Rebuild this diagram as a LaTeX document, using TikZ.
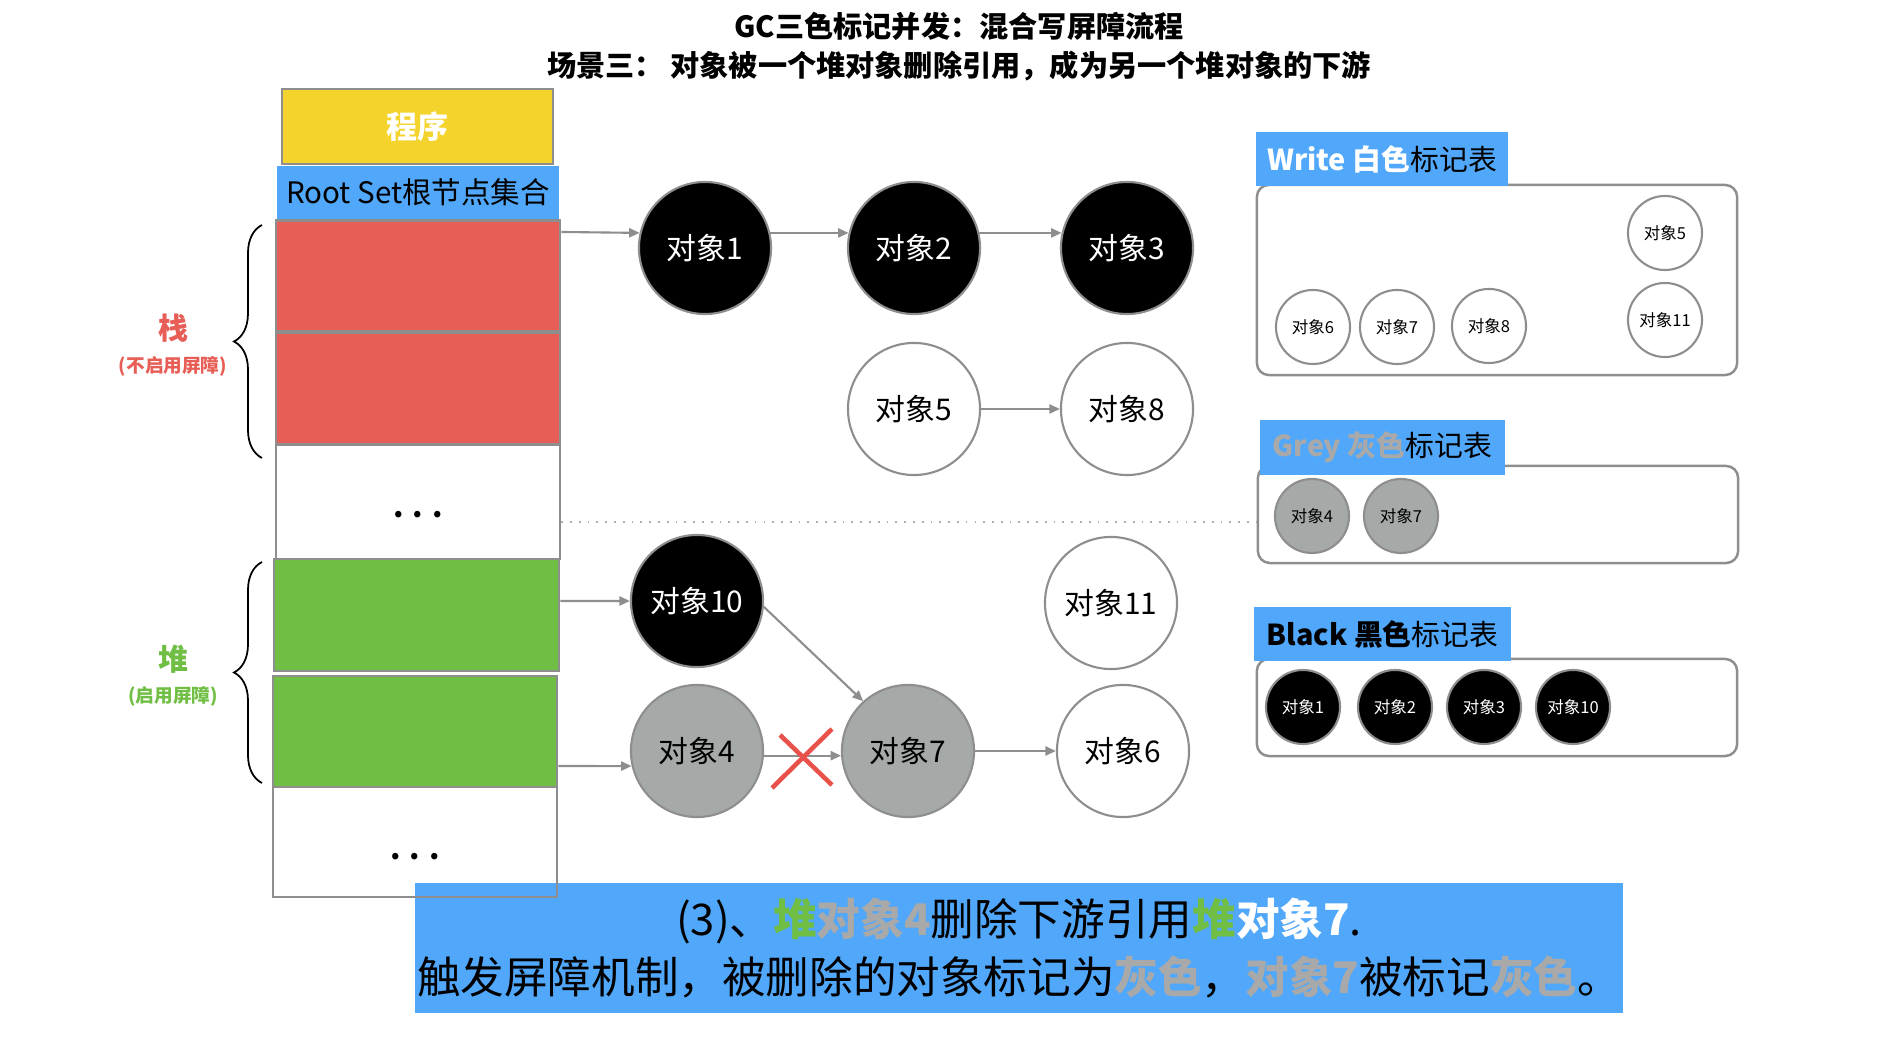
\documentclass[tikz,border=0pt]{standalone}
\usepackage{fontspec}
\setmainfont{Noto Sans CJK SC}
\usetikzlibrary{arrows.meta,decorations.pathreplacing}
\definecolor{progyellow}{HTML}{F3D32C}
\definecolor{setblue}{HTML}{51A7F9}
\definecolor{stackred}{HTML}{E75E56}
\definecolor{heapgreen}{HTML}{70BF44}
\definecolor{objgrey}{HTML}{A5A9A8}
\definecolor{edgegrey}{HTML}{8E8E8E}
\definecolor{textgrey}{HTML}{A9A9A9}
\definecolor{crossred}{HTML}{E8524A}
\newcommand{\fsz}[2]{\fontsize{#1}{#2}\selectfont}

\begin{document}
\begin{tikzpicture}[x=0.01cm,y=-0.01cm,
  cell/.style={draw=edgegrey,line width=0.7pt,minimum width=2.84cm,minimum height=1.11cm,inner sep=0pt},
  bigobj/.style={circle,draw=edgegrey,line width=0.6pt,minimum size=1.32cm,inner sep=0pt,font=\fsz{8.5}{10}},
  smallobj/.style={circle,draw=edgegrey,line width=0.6pt,minimum size=0.74cm,inner sep=0pt,font=\fsz{4.7}{6}},
  blackobj/.style={fill=black,text=white},
  greyobj/.style={fill=objgrey},
  whiteobj/.style={fill=white},
  arr/.style={draw=edgegrey,line width=0.6pt,-{Triangle[length=3pt,width=2.6pt]}},
  marktable/.style={draw=edgegrey,line width=0.7pt,rounded corners=0.12cm,minimum width=4.8cm,inner sep=0pt},
  tablabel/.style={fill=setblue,minimum width=2.51cm,minimum height=0.54cm,inner sep=0pt,font=\fsz{8.2}{10}}]
\useasboundingbox (0,0) rectangle (1896,1046);

\node[font=\bfseries\fsz{8.3}{10}] (title) at (959,26) {GC三色标记并发：混合写屏障流程};
\node[font=\bfseries\fsz{8.3}{10}] (subtitle) at (959,66) {场景三： 对象被一个堆对象删除引用，成为另一个堆对象的下游};

\node[draw=edgegrey,line width=0.7pt,fill=progyellow,minimum width=2.71cm,minimum height=0.75cm,inner sep=0pt,text=white,font=\bfseries\fsz{8.8}{10}] (prog) at (417.5,126.5) {程序};
\node[fill=setblue,minimum width=2.82cm,minimum height=0.53cm,inner sep=0pt,font=\fsz{8.4}{10}] (rootset) at (418,192.5) {Root Set根节点集合};
\node[cell,fill=stackred] (red1) at (418,276) {};
\node[cell,fill=stackred] (red2) at (418,388.5) {};
\node[cell,minimum height=1.14cm] (white1) at (418,502) {};
\node[font=\bfseries\fsz{8.5}{10}] (dots1) at (418,515) {. . .};
\node[cell,fill=heapgreen,minimum width=2.85cm,minimum height=1.12cm] (green1) at (416.5,615) {};
\node[cell,fill=heapgreen] (green2) at (415,731.5) {};
\node[fill=setblue,minimum width=12.08cm,minimum height=1.30cm,inner sep=0pt,align=center,font=\fsz{12.4}{16.5}] (note) at (1019,948) {(3)、\textcolor{heapgreen}{\bfseries 堆}\textcolor{textgrey}{\bfseries 对象4}删除下游引用\textcolor{heapgreen}{\bfseries 堆}\textcolor{white}{\bfseries 对象7}.\\触发屏障机制，被删除的对象标记为\textcolor{textgrey}{\bfseries 灰色}，\textcolor{textgrey}{\bfseries 对象7}被标记\textcolor{textgrey}{\bfseries 灰色}。};
\node[cell,minimum height=1.10cm] (white2) at (415,842) {};
\node[font=\bfseries\fsz{8.5}{10}] (dots2) at (415,857) {. . .};

\draw[decorate,decoration={brace,amplitude=0.28cm},line width=0.5pt] (262,458) -- (262,225);
\draw[decorate,decoration={brace,amplitude=0.28cm},line width=0.5pt] (262,783) -- (262,562);
\node[text=stackred,font=\bfseries\fsz{8.5}{10}] (stacklbl) at (173,328) {栈};
\node[text=stackred,font=\bfseries\fsz{5.3}{6}] (stacknote) at (173,366) {(不启用屏障)};
\node[text=heapgreen,font=\bfseries\fsz{8.5}{10}] (heaplbl) at (173,659) {堆};
\node[text=heapgreen,font=\bfseries\fsz{5.3}{6}] (heapnote) at (173,696) {(启用屏障)};

\node[bigobj,blackobj] (obj1) at (705,248) {对象1};
\node[bigobj,blackobj] (obj2) at (914,248) {对象2};
\node[bigobj,blackobj] (obj3) at (1127,248) {对象3};
\node[bigobj,whiteobj] (obj5) at (914,409) {对象5};
\node[bigobj,whiteobj] (obj8) at (1127,409) {对象8};
\node[bigobj,blackobj] (obj10) at (697,601) {对象10};
\node[bigobj,whiteobj] (obj11) at (1111,603) {对象11};
\node[bigobj,greyobj] (obj4) at (697,751) {对象4};
\node[bigobj,greyobj] (obj7) at (908,751) {对象7};
\node[bigobj,whiteobj] (obj6) at (1123,751) {对象6};

\draw[arr] ([yshift=0.44cm]red1.east) -- (obj1.167);
\draw[arr] (obj1.13) -- (obj2.167);
\draw[arr] (obj2.13) -- (obj3.167);
\draw[arr] (obj5) -- (obj8);
\draw[arr] ([yshift=0.14cm]green1.east) -- (obj10);
\draw[arr] ([yshift=-0.345cm]green2.east) -- (obj4.193);
\draw[arr] (obj4.-4) -- (obj7.184);
\draw[arr] (obj10.-5) -- (obj7.132);
\draw[arr] (obj7) -- (obj6);
\draw[crossred,line width=1.3pt] (780,735) -- (832,785) (772,788) -- (832,729);

\coordinate (dotend) at (1258,522);
\draw[edgegrey!70,dotted,line width=0.5pt] (white1.east |- dotend) -- (dotend);

\node[marktable,minimum height=1.90cm] (writebox) at (1497,280) {};
\node[tablabel] (writelbl) at (1382,159) {\textcolor{white}{\bfseries Write 白色}标记表};
\node[smallobj,whiteobj] (w5) at (1665,233) {对象5};
\node[smallobj,whiteobj] (w11) at (1665,320) {对象11};
\node[smallobj,whiteobj] (w6) at (1313,327) {对象6};
\node[smallobj,whiteobj] (w7) at (1397,327) {对象7};
\node[smallobj,whiteobj] (w8) at (1489,326) {对象8};

\node[marktable,minimum height=0.97cm] (greybox) at (1498,514.5) {};
\node[tablabel,minimum width=2.45cm] (greylbl) at (1382.5,447.5) {\textcolor{textgrey}{\bfseries Grey 灰色}标记表};
\node[smallobj,greyobj] (g4) at (1312,516) {对象4};
\node[smallobj,greyobj] (g7) at (1401,516) {对象7};

\node[marktable,minimum height=0.97cm] (blackbox) at (1497,707.5) {};
\node[tablabel,minimum width=2.57cm] (blacklbl) at (1382.5,634) {{\bfseries Black 黑色}标记表};
\node[smallobj,blackobj] (b1) at (1303,707) {对象1};
\node[smallobj,blackobj] (b2) at (1395,707) {对象2};
\node[smallobj,blackobj] (b3) at (1484,707) {对象3};
\node[smallobj,blackobj] (b10) at (1573,707) {对象10};
\end{tikzpicture}
\end{document}
